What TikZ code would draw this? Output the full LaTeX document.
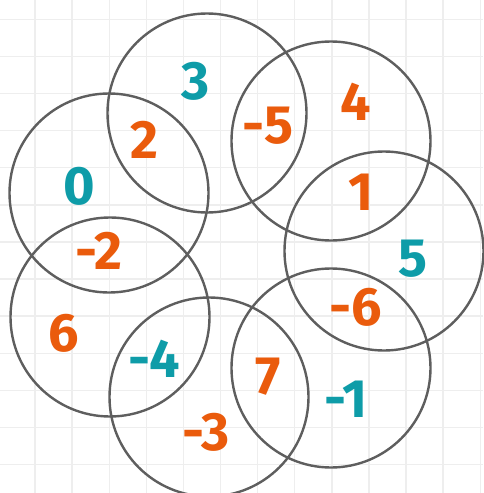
\documentclass[tikz,border=0pt]{standalone}
\usepackage{fontspec}
\setmainfont{Fira Sans}
\definecolor{numor}{HTML}{EA5B0C}
\definecolor{numte}{HTML}{0E9CA8}
\definecolor{ringgray}{HTML}{5E5E5E}
\definecolor{gridgray}{HTML}{EEEEEE}
\begin{document}
\begin{tikzpicture}[x=1pt,y=-1pt,
  ring/.style={circle,draw=ringgray,line width=2.4pt,minimum size=199pt,inner sep=0pt},
  numbase/.style={font=\fontsize{54}{54}\selectfont\bfseries,inner sep=0pt,anchor=center},
  orn/.style={numbase,text=numor},
  tel/.style={numbase,text=numte}]
\useasboundingbox (0,0) rectangle (483,493);
\fill[white] (0,0) rectangle (483,493);
\foreach \k in {0,...,12} {
  \draw[gridgray,line width=1.4pt] ({35+37.1*\k},0) -- ({35+37.1*\k},493);
  \draw[gridgray,line width=1.4pt] (0,{19.3+37.1*\k}) -- (483,{19.3+37.1*\k});
}
\node[ring] (c0) at (109,193) {};
\node[ring] (c3) at (207,113) {};
\node[ring] (c4) at (331,141) {};
\node[ring] (c5) at (384,251) {};
\node[ring] (cm1) at (331,368) {};
\node[ring] (cm3) at (209,397) {};
\node[ring] (c6) at (110,317) {};
\node[tel] (n3) at (196,81) {3};
\node[orn] (n2) at (144,140) {2};
\node[tel] (n0) at (79,186) {0};
\node[orn] (nm2) at (99,251) {-2};
\node[orn] (nm5) at (268,126) {-5};
\node[orn] (n4) at (356,102) {4};
\node[orn] (n1) at (361,192) {1};
\node[tel] (n5) at (413,259) {5};
\node[orn] (nm6) at (356,307) {-6};
\node[orn] (n6) at (64,333) {6};
\node[tel] (nm4) at (154,359) {-4};
\node[orn] (nm3) at (206,432) {-3};
\node[orn] (n7) at (268,377) {7};
\node[tel] (nm1) at (346,399) {-1};
\end{tikzpicture}
\end{document}
